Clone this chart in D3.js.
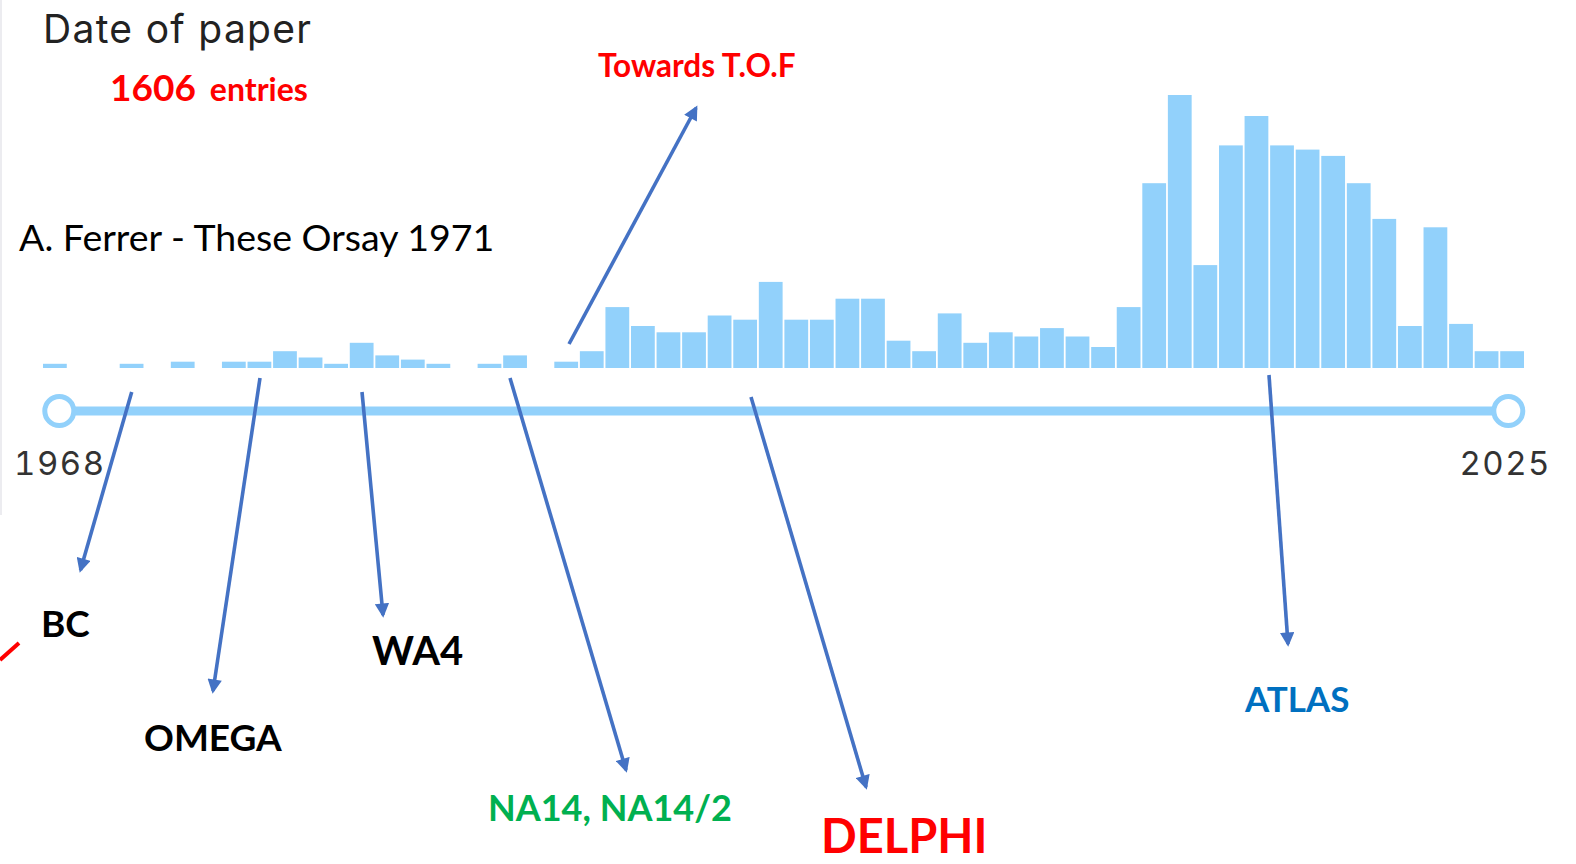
<!DOCTYPE html>
<html>
<head>
<meta charset="utf-8">
<script src="https://cdn.jsdelivr.net/npm/d3@7"></script>
<style>
  html, body { margin: 0; padding: 0; background: #fff; }
  svg { display: block; }
</style>
</head>
<body>
<svg id="chart" width="1576" height="864"></svg>
<script>
// papers per year, 1968 .. 2025 (0 = no bar)
const years = d3.range(1968, 2026);
const counts = [
    2, 0, 0, 2, 0, 3, 0, 3, 3, 8,
    5, 2, 12, 6, 4, 2, 0, 2, 6, 0,
    3, 8, 29, 20, 17, 17, 25, 23, 41, 23,
    23, 33, 33, 13, 8, 26, 12, 17, 15, 19,
    15, 10, 29, 88, 130, 49, 106, 120, 106, 104,
    101, 88, 71, 20, 67, 21, 8, 8
];
const totalEntries = 1606;
const rangeLabels = ["1968", "2025"];

// experiment annotations
const expLabels = ["BC", "OMEGA", "WA4", "NA14, NA14/2", "DELPHI", "ATLAS"];
const expColors = ["#000", "#000", "#000", "#00b050", "#ff0000", "#0070c0"];

const svg = d3.select("#chart");
const width = 1576, height = 864;

const x = d3.scaleBand()
    .domain(years)
    .range([43, 1524])
    .paddingInner(0.07)
    .paddingOuter(0);

const y = d3.scaleLinear()
    .domain([0, d3.max(counts)])
    .range([368, 95]);

const slider = d3.scaleLinear()
    .domain([1968, 2025])
    .range([59.3, 1508.3]);

const barColor = "#92d1fb";
const arrowColor = "#4472c4";

// faint screenshot border on the left
svg.append("line")
    .attr("x1", 1).attr("x2", 1)
    .attr("y1", 0).attr("y2", 515)
    .attr("stroke", "#ececf0")
    .attr("stroke-width", 2);

svg.append("defs").append("marker")
    .attr("id", "head")
    .attr("viewBox", "0 0 10 10")
    .attr("refX", 8).attr("refY", 5)
    .attr("markerWidth", 4.2).attr("markerHeight", 4)
    .attr("markerUnits", "strokeWidth")
    .attr("orient", "auto")
    .append("path")
    .attr("d", "M0,0 L10,5 L0,10 Z")
    .attr("fill", arrowColor);

// histogram
const data = years.map((yr, i) => ({ year: yr, n: counts[i] })).filter(d => d.n > 0);

svg.append("g")
    .selectAll("rect")
    .data(data)
    .join("rect")
    .attr("x", d => x(d.year))
    .attr("width", x.bandwidth())
    .attr("y", d => y(d.n))
    .attr("height", d => y(0) - y(d.n))
    .attr("fill", barColor);

// range slider
const sy = 411;
svg.append("line")
    .attr("x1", slider(1968)).attr("x2", slider(2025))
    .attr("y1", sy).attr("y2", sy)
    .attr("stroke", barColor)
    .attr("stroke-width", 9);

svg.append("g")
    .selectAll("circle")
    .data([1968, 2025])
    .join("circle")
    .attr("cx", d => slider(d))
    .attr("cy", sy)
    .attr("r", 14.5)
    .attr("fill", "#fff")
    .attr("stroke", barColor)
    .attr("stroke-width", 5);

svg.append("g")
    .selectAll("text")
    .data(rangeLabels)
    .join("text")
    .attr("x", (d, i) => i === 0 ? 14 : 1551)
    .attr("y", 475)
    .attr("text-anchor", (d, i) => i === 0 ? "start" : "end")
    .attr("font-family", "Inter, 'Liberation Sans', sans-serif")
    .attr("font-size", 33)
    .style("font-variant-numeric", "tabular-nums")
    .attr("letter-spacing", 1.5)
    .attr("fill", "#333")
    .text(d => d);

// headings
svg.append("text")
    .attr("x", 43).attr("y", 43)
    .attr("font-family", "Inter, 'Liberation Sans', sans-serif")
    .attr("font-size", 39)
    .attr("letter-spacing", 1.3)
    .attr("fill", "#222")
    .text("Date of paper");

const entries = svg.append("text")
    .attr("x", 110).attr("y", 101)
    .attr("font-family", "Lato, sans-serif")
    .attr("font-weight", "bold")
    .attr("fill", "#ff0000");
entries.append("tspan").attr("font-size", 37).text(totalEntries);
entries.append("tspan").attr("font-size", 32).attr("dx", 14).text("entries");

svg.append("text")
    .attr("x", 19).attr("y", 251)
    .attr("font-family", "Lato, sans-serif")
    .attr("font-size", 37.5)
    .attr("fill", "#000")
    .text("A. Ferrer - These Orsay 1971");

svg.append("text")
    .attr("x", 598).attr("y", 77)
    .attr("font-family", "Lato, sans-serif")
    .attr("font-weight", "bold")
    .attr("font-size", 31.5)
    .attr("fill", "#ff0000")
    .text("Towards T.O.F");

// arrows: [x1, y1, x2, y2]
const arrows = [
    [131.7, 392, 80.5, 570],
    [260, 378, 213, 691],
    [362, 392, 383, 615],
    [510, 378, 626, 770],
    [751, 397, 866, 787],
    [1269, 375, 1288, 644],
    [569, 344, 696, 108]
];

svg.append("g")
    .selectAll("line")
    .data(arrows)
    .join("line")
    .attr("x1", d => d[0]).attr("y1", d => d[1])
    .attr("x2", d => d[2]).attr("y2", d => d[3])
    .attr("stroke", arrowColor)
    .attr("stroke-width", 3.6)
    .attr("marker-end", "url(#head)");

// experiment labels
const labelPos = [
    [41, 637, 37],
    [144, 751, 37],
    [372, 665, 40],
    [488, 821, 36],
    [821, 853, 47],
    [1245, 712, 35]
];

svg.append("g")
    .selectAll("text")
    .data(expLabels)
    .join("text")
    .attr("x", (d, i) => labelPos[i][0])
    .attr("y", (d, i) => labelPos[i][1])
    .attr("font-size", (d, i) => labelPos[i][2])
    .attr("font-family", "Lato, sans-serif")
    .attr("font-weight", "bold")
    .attr("fill", (d, i) => expColors[i])
    .text(d => d);

// stray red stroke at the left edge
svg.append("line")
    .attr("x1", 0).attr("y1", 660)
    .attr("x2", 19).attr("y2", 643)
    .attr("stroke", "#ff0000")
    .attr("stroke-width", 4);
</script>
</body>
</html>
